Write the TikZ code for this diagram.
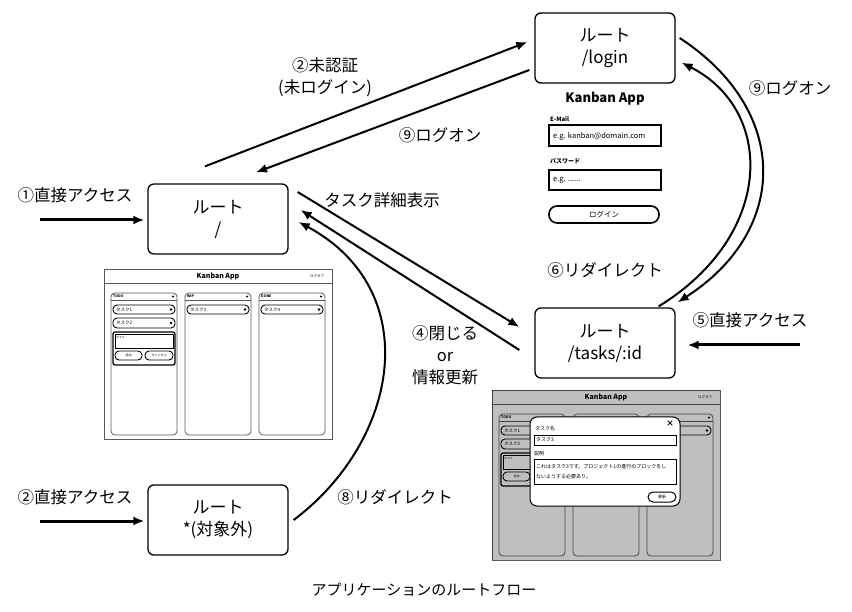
\documentclass[tikz,border=0pt]{standalone}
\usepackage{fontspec}
\setmainfont{Noto Sans CJK JP}
\usetikzlibrary{arrows.meta,calc}

\begin{document}
\begin{tikzpicture}[
  x=1pt, y=-1pt,
  >={Latex[length=11pt,width=9pt]},
  route/.style={draw, rounded corners=6pt, line width=1.3pt, minimum width=140pt,
                minimum height=70pt, align=center, font=\fontsize{17}{22}\selectfont},
  lbl/.style={font=\fontsize{16.5}{21}\selectfont, inner sep=1pt},
  arrow/.style={->, line width=2pt},
  inarrow/.style={->, line width=3pt},
  ui/.style={font=\fontsize{#1}{#1}\selectfont, inner sep=0pt},
  ui/.default=5,
  uib/.style={font=\bfseries\fontsize{#1}{#1}\selectfont, inner sep=0pt},
  uib/.default=5,
  frame/.style={draw=black!65, line width=0.8pt},
  card/.style={draw, line width=0.9pt, rounded corners=4pt},
  field/.style={draw, line width=1.6pt},
  % board frame, cards and the TODO texts
  pics/kanban/.style={code={
    \draw[frame] (0,0) rectangle (228,170);
    \draw[frame] (0,14) -- (228,14);
    \node[uib=7] at (114,7) {Kanban App};
    \node[ui=3.5] at (213,7) {ログオフ};
    \foreach \cx in {7,81,155}{
      \draw[frame, rounded corners=4pt] (\cx,24) rectangle ++(66,142);
      \draw[frame] (\cx,31) -- ++(66,0);
      \fill (\cx+62,27.5) circle (1.2pt);
      \draw[card] (\cx+2,36) rectangle ++(62,9);
      \fill (\cx+60,40.5) circle (1.3pt);
    }
    \node[uib=3.5, anchor=west] at (9,27.5) {TODO};
    \node[ui=4.5, anchor=west] at (12,40.5) {タスク1};
    \draw[card] (9,49) rectangle ++(62,10);
    \node[ui=4.5, anchor=west] at (12,54) {タスク2};
    \fill (67,54) circle (1.3pt);
    \draw[line width=1.2pt, rounded corners=2pt] (9,63) rectangle (71,96);
    \draw[line width=0.6pt] (11,65) rectangle (69,79);
    \node[ui=2.8, anchor=west] at (12,68) {タスク...};
    \draw[card] (11,82) rectangle (38,91);
    \node[ui=3] at (24.5,86.5) {追加};
    \draw[card] (41,82) rectangle (69,91);
  }},
  % texts that the dialog hides
  pics/kanbantext/.style={code={
    \node[uib=3.5, anchor=west] at (83,27.5) {WIP};
    \node[uib=3.5, anchor=west] at (157,27.5) {DONE};
    \node[ui=4.5, anchor=west] at (86,40.5) {タスク3};
    \node[ui=4.5, anchor=west] at (160,40.5) {タスク4};
    \node[ui=3] at (55,86.5) {キャンセル};
  }}
]
% BOUNDS
\useasboundingbox (0,0) rectangle (852,612);

% ROUTES
\node (root)  [route] at (218,219) {ルート\\/};
\node (login) [route] at (605,48)  {ルート\\/login};
\node (task)  [route] at (605,343) {ルート\\/tasks/:id};
\node (other) [route] at (218,520) {ルート\\*(対象外)};

% ENTRY POINTS
\coordinate (in1) at (40,220);
\coordinate (in2) at (40,521);
\coordinate (in5) at (800,345);

% LABELS
\node (l1)   [lbl] at (75,195)  {①直接アクセス};
\node (l2)   [lbl] at (75,497)  {②直接アクセス};
\node (l5)   [lbl] at (750,320) {⑤直接アクセス};
\node (auth) [lbl, align=center, font=\fontsize{16.5}{22}\selectfont] at (325,77) {②未認証\\(未ログイン)};
\node (l9a)  [lbl] at (440,135) {⑨ログオン};
\node (ldet) [lbl] at (382,200) {タスク詳細表示};
\node (l6)   [lbl] at (605,270) {⑥リダイレクト};
\node (l9b)  [lbl] at (790,88)  {⑨ログオン};
\node (l4)   [lbl, align=center, font=\fontsize{16.5}{22}\selectfont] at (445,355) {④閉じる\\or\\情報更新};
\node (l8)   [lbl] at (395,497) {⑧リダイレクト};
\node (cap)  [font=\fontsize{15}{15}\selectfont] at (424,590) {アプリケーションのルートフロー};

% SCREENS
\pic at (104,269) {kanban};
\pic at (104,269) {kanbantext};
\pic at (492,390) {kanban};
\fill[black, opacity=0.25] (492,390) rectangle ++(228,170);
\draw[line width=1pt, fill=white, rounded corners=7pt] (530,417) rectangle (680,506);
\node[uib=8] at (670,424) {×};
\node[ui=5, anchor=west] at (535,429) {タスク名};
\draw[line width=0.7pt] (534,435) rectangle (676,445);
\node[ui=5, anchor=west] at (536,440) {タスク3};
\node[ui=5, anchor=west] at (534,454) {説明};
\draw[line width=0.7pt] (534,459) rectangle (676,484);
\node[ui=5, anchor=west, align=left, font=\fontsize{5}{10}\selectfont] at (536,471.5)
  {これはタスク3です。プロジェクト1の進行のブロックをし\\ないようする必要あり。};
\draw[line width=1pt, rounded corners=5pt] (648,492) rectangle (676,502);
\node[ui=4] at (662,497) {更新};

% LOGIN FORM
\node[uib=13] at (605,99) {Kanban App};
\node[uib=6, anchor=west] at (550,119) {E-Mail};
\draw[field] (549,125) rectangle (661,146);
\node[ui=7.5, anchor=west] at (553,136) {e.g. kanban@domain.com};
\node[uib=6, anchor=west] at (550,161) {パスワード};
\draw[field] (549,170) rectangle (661,190);
\node[ui=7.5, anchor=west] at (553,180) {e.g. ......};
\draw[field, rounded corners=8pt] (549,206) rectangle (659,223);
\node[ui=7.5] at (604,214.5) {ログイン};

% ARROWS
\draw[inarrow] (in1) -- ([xshift=-3pt,yshift=-1pt]root.west);
\draw[inarrow] (in2) -- ([xshift=-3pt,yshift=-1pt]other.west);
\draw[inarrow] (in5) -- ([xshift=12pt,yshift=-2pt]task.east);
\draw[arrow] ([xshift=-13pt,yshift=17pt]root.north) -- ([xshift=-7pt,yshift=6pt]login.west);
\draw[arrow] ([xshift=-5pt,yshift=-22pt]login.west) -- ([xshift=38pt,yshift=11pt]root.north);
\draw[arrow] ([xshift=9pt,yshift=27pt]root.east) -- ([xshift=-15pt,yshift=16pt]task.west);
\draw[arrow] ([xshift=-15pt,yshift=-7pt]task.west) -- ([xshift=12pt,yshift=9pt]root.east);
\draw[arrow] ([xshift=5pt]other.east) .. controls (400,440) and (425,290) .. ([xshift=10pt,yshift=-3pt]root.east);
\draw[arrow] ([xshift=4pt,yshift=10pt]login.east) .. controls (790,110) and (790,230) .. ([xshift=2pt,yshift=5pt]task.north east);
\draw[arrow] ([xshift=-17pt,yshift=1pt]task.north east) .. controls (775,235) and (775,110) .. ([xshift=6pt,yshift=21pt]login.south east);
\end{tikzpicture}
\end{document}
